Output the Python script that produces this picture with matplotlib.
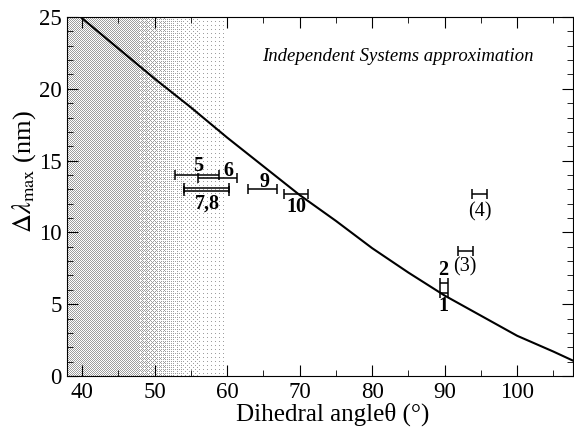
import numpy as np
import matplotlib.pyplot as plt

# Independent Systems curve, read every 2.5 degrees
theta = [40, 42.5, 45, 47.5, 50, 52.5, 55, 57.5, 60, 62.5, 65, 67.5, 70, 72.5,
         75, 77.5, 80, 82.5, 85, 87.5, 90, 92.5, 95, 97.5, 100, 102.5, 105, 108]
shift = [24.9, 23.85, 22.8, 21.75, 20.7, 19.7, 18.7, 17.65, 16.6, 15.6, 14.6,
         13.6, 12.6, 11.7, 10.8, 9.85, 8.9, 8.05, 7.2, 6.4, 5.6, 4.9, 4.2, 3.5,
         2.8, 2.25, 1.7, 1.0]

# measured systems: label, angle range (lo, hi), shift
labels = ['5', '6', '7', '8', '9', '10', '1', '2', '(3)', '(4)']
lo = [52.8, 56.0, 54.0, 54.0, 62.9, 67.9, 89.4, 89.4, 91.8, 93.7]
hi = [58.8, 61.3, 60.2, 60.2, 66.9, 71.1, 90.4, 90.4, 93.9, 95.8]
dl = [14.0, 13.8, 13.1, 12.9, 13.0, 12.7, 5.8, 6.5, 8.7, 12.7]

# where each number is written
tag_text = ['5', '6', '7,8', '9', '10', '1', '2', '(3)', '(4)']
tag_x = [56.0, 60.2, 57.2, 65.1, 69.6, 89.8, 89.8, 92.8, 94.9]
tag_y = [14.6, 14.3, 12.0, 13.5, 11.8, 4.9, 7.4, 7.6, 11.4]

plt.rcParams['font.family'] = ['Liberation Serif', 'DejaVu Serif']
plt.rcParams['mathtext.fontset'] = 'stix'

W, H = 574, 429
L, B, AW, AH = 67, 53, 506, 359
fig = plt.figure(figsize=(W / 100, H / 100), dpi=100, facecolor='white')
ax = fig.add_axes([L / W, B / H, AW / W, AH / H])
ax.set_facecolor('none')
x0, x1 = 37.9, 107.7

# halftone band on the small-angle side, dithered pixel by pixel
nx = 190
cx = x0 + (np.arange(nx) + 0.5) * (x1 - x0) / AW
dens = np.interp(cx, [x0, 47.0, 51.0, 55.0, 59.0, 63.0, 70.0],
                 [0.5, 0.5, 0.3, 0.12, 0.04, 0.0, 0.0])
bayer = np.array([[0, 8, 2, 10], [12, 4, 14, 6], [3, 11, 1, 9], [15, 7, 13, 5]]) / 16 + 1 / 32
thr = np.tile(bayer, (AH // 4 + 1, nx // 4 + 1))[:AH, :nx]
dots = dens[None, :] > thr
rgba = np.ones((AH, nx, 4))
rgba[..., :3] = np.where(dots, 0.62, 1.0)[..., None]
fig.figimage(rgba, xo=L, yo=B, zorder=-1)

ax.plot(theta, shift, color='black', lw=1.5, zorder=3)

for a, b, y in zip(lo, hi, dl):
    c = (a + b) / 2
    ax.errorbar(c, y, xerr=(b - a) / 2, fmt='none', ecolor='black',
                elinewidth=1.1, capsize=3.5, capthick=1.1, zorder=4)

for t, x, y in zip(tag_text, tag_x, tag_y):
    bold = not t.startswith('(')
    ax.text(x, y, t, ha='center', va='center', fontsize=14.5,
            fontweight='bold' if bold else 'normal', zorder=5)

ax.text(0.654, 0.889, 'Independent Systems approximation', transform=ax.transAxes,
        ha='center', va='center', style='italic', fontsize=13.5)

ax.set_xlim(x0, x1)
ax.set_ylim(0, 25)
ax.set_xticks(np.arange(40, 101, 10))
ax.set_xticks(np.arange(40, 108, 5), minor=True)
ax.set_yticks(np.arange(0, 26, 5))
ax.set_yticks(np.arange(0, 26, 1), minor=True)
ax.tick_params(which='both', direction='in', top=True, right=True, labelsize=16.5)
ax.tick_params(which='major', length=8, pad=4)
ax.tick_params(which='minor', length=4)

ax.set_xlabel('Dihedral angle\u03b8 (\u00b0)', fontsize=18)
ax.xaxis.set_label_coords(0.526, -0.075)
ax.set_ylabel(r'$\Delta\lambda_{\rm max}$ (nm)', fontsize=19)
ax.yaxis.set_label_coords(-0.058, 0.57)

fig.savefig('out.png', dpi=100, facecolor='white')
